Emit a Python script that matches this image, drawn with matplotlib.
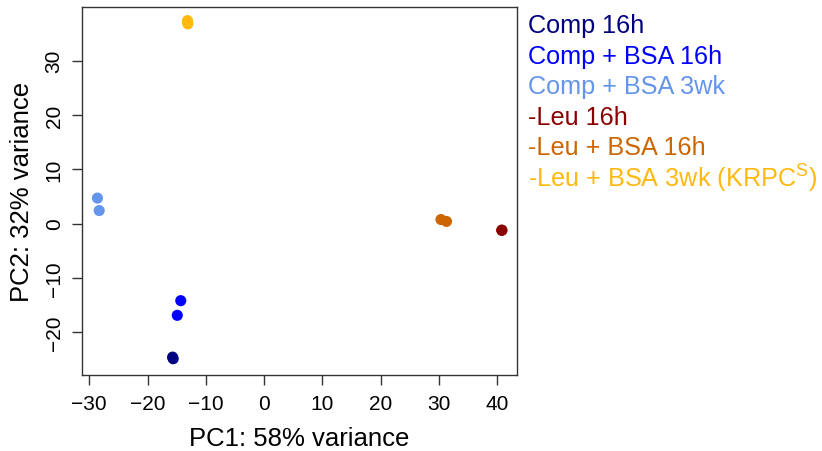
import matplotlib
matplotlib.use("Agg")
import matplotlib.pyplot as plt

# ── Data ─────────────────────────────────────────────────────────────────────
groups = [
    "Comp 16h",
    "Comp + BSA 16h",
    "Comp + BSA 3wk",
    "-Leu 16h",
    "-Leu + BSA 16h",
    r"-Leu + BSA 3wk (KRPC$^{\mathrm{S}}$)",
]
colors = ["#000080", "#0000FF", "#6495ED", "#8B0000", "#CD6600", "#FFB90F"]

pc1 = [
    [-15.7, -15.6],   # Comp 16h
    [-14.3, -14.9],   # Comp + BSA 16h
    [-28.6, -28.3],   # Comp + BSA 3wk
    [40.8, 40.8],     # -Leu 16h
    [30.35, 31.3],    # -Leu + BSA 16h
    [-13.15, -13.1],  # -Leu + BSA 3wk
]
pc2 = [
    [-24.6, -24.9],
    [-14.2, -16.9],
    [4.7, 2.4],
    [-1.2, -1.25],
    [0.75, 0.4],
    [37.4, 36.8],
]

x_ticks = [-30, -20, -10, 0, 10, 20, 30, 40]
y_ticks = [-20, -10, 0, 10, 20, 30]

# ── Style ─────────────────────────────────────────────────────────────────────
plt.rcParams["font.family"] = ["Liberation Sans", "DejaVu Sans"]
plt.rcParams["mathtext.fontset"] = "custom"
plt.rcParams["mathtext.rm"] = "Liberation Sans"

fig = plt.figure(figsize=(8.22, 4.52), dpi=100)
ax = fig.add_axes([0.0994, 0.1681, 0.5299, 0.8135])

for xs, ys, c in zip(pc1, pc2, colors):
    ax.scatter(xs, ys, s=64, color=c, edgecolors="none", zorder=3)

ax.set_xlim(-31.3, 43.45)
ax.set_ylim(-27.9, 39.85)
ax.set_xticks(x_ticks)
ax.set_yticks(y_ticks)
ax.set_xticklabels([str(v).replace("-", "\u2212") for v in x_ticks])
ax.set_yticklabels([str(v).replace("-", "\u2212") for v in y_ticks],
                   rotation=90, va="center")
ax.tick_params(axis="both", direction="out", length=7, width=1,
               labelsize=15, color="#333333")
ax.tick_params(axis="x", pad=7)
ax.tick_params(axis="y", pad=6)
for sp in ax.spines.values():
    sp.set_linewidth(1)
    sp.set_color("#333333")

ax.set_xlabel("PC1: 58% variance", fontsize=18.5, labelpad=9)
ax.set_ylabel("PC2: 32% variance", fontsize=18.5, labelpad=8)

# ── Text-only legend, coloured by group ──────────────────────────────────────
for i, (g, c) in enumerate(zip(groups, colors)):
    fig.text(0.6425, 1 - (26 + i * 30.6) / 452, g, color=c,
             fontsize=18.2, va="center", ha="left")

plt.savefig("out.png", dpi=100)
